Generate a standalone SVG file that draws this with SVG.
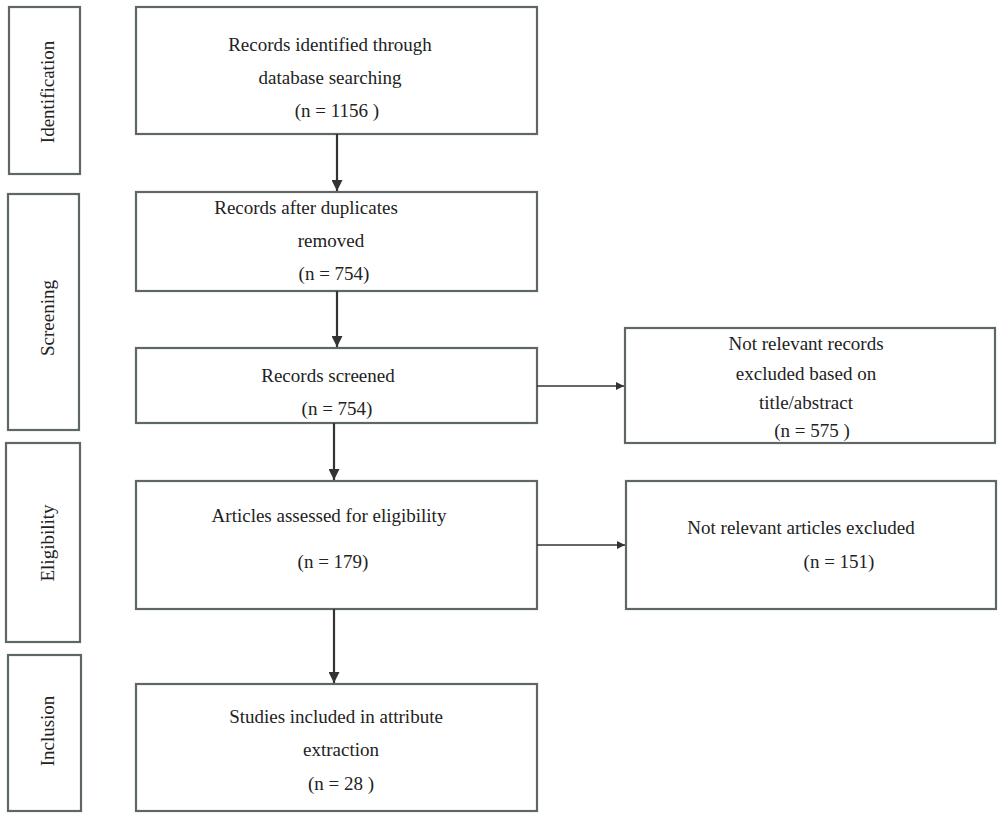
<svg xmlns="http://www.w3.org/2000/svg" width="1000" height="816" viewBox="0 0 1000 816">
<style>
.box{fill:#fff;stroke:#5f6668;stroke-width:2.2}
.t{font-family:"Liberation Serif","DejaVu Serif",serif;font-size:19px;fill:#222;text-anchor:middle}
.c{stroke:#333;stroke-width:2.2;fill:none}
</style>
<defs>
<marker id="ah" viewBox="0 0 10 10" refX="10" refY="5" markerWidth="5" markerHeight="5" orient="auto" markerUnits="strokeWidth">
<path d="M0,0 L10,5 L0,10 z" fill="#333"/>
</marker>
</defs>
<rect width="1000" height="816" fill="#fff"/>
<g id="stage-identification"><rect class="box" x="9" y="7" width="71" height="167"/><text class="t" transform="translate(54,92) rotate(-90)">Identification</text></g>
<g id="stage-screening"><rect class="box" x="8" y="194" width="71" height="236"/><text class="t" transform="translate(54,318) rotate(-90)">Screening</text></g>
<g id="stage-eligibility"><rect class="box" x="6" y="443" width="74" height="199"/><text class="t" transform="translate(54,543) rotate(-90)">Eligibility</text></g>
<g id="stage-inclusion"><rect class="box" x="8" y="655" width="73" height="156"/><text class="t" transform="translate(54,731) rotate(-90)">Inclusion</text></g>

<g id="n1"><rect class="box" x="136" y="7" width="401" height="127"/>
<text class="t" x="330" y="51">Records identified through</text>
<text class="t" x="330" y="84">database searching</text>
<text class="t" x="337" y="117">(n = 1156 )</text></g>
<g id="n2"><rect class="box" x="136" y="192" width="401" height="99"/>
<text class="t" x="306" y="214">Records after duplicates</text>
<text class="t" x="331" y="247">removed</text>
<text class="t" x="334" y="280">(n = 754)</text></g>
<g id="n3"><rect class="box" x="136" y="348" width="401" height="75"/>
<text class="t" x="328" y="382">Records screened</text>
<text class="t" x="337" y="415">(n = 754)</text></g>
<g id="n4"><rect class="box" x="136" y="481" width="401" height="128"/>
<text class="t" x="329" y="522">Articles assessed for eligibility</text>
<text class="t" x="333" y="568">(n = 179)</text></g>
<g id="n5"><rect class="box" x="136" y="684" width="401" height="127"/>
<text class="t" x="336" y="723">Studies included in attribute</text>
<text class="t" x="341" y="756">extraction</text>
<text class="t" x="341" y="790">(n = 28 )</text></g>
<g id="x1"><rect class="box" x="625" y="328" width="370" height="115"/>
<text class="t" x="806" y="350">Not relevant records</text>
<text class="t" x="806" y="380">excluded based on</text>
<text class="t" x="806" y="409">title/abstract</text>
<text class="t" x="812" y="437">(n = 575 )</text></g>
<g id="x2"><rect class="box" x="626" y="481" width="370" height="128"/>
<text class="t" x="801" y="534">Not relevant articles excluded</text>
<text class="t" x="839" y="568">(n = 151)</text></g>

<g id="connectors">
<line class="c" x1="337" y1="134" x2="337" y2="191" marker-end="url(#ah)"/>
<line class="c" x1="337" y1="291" x2="337" y2="347" marker-end="url(#ah)"/>
<line class="c" x1="334" y1="423" x2="334" y2="480" marker-end="url(#ah)"/>
<line class="c" x1="334" y1="609" x2="334" y2="683" marker-end="url(#ah)"/>
<line class="c" x1="537" y1="386" x2="624" y2="386" marker-end="url(#ah)" style="stroke-width:1.6"/>
<line class="c" x1="537" y1="545" x2="625" y2="545" marker-end="url(#ah)" style="stroke-width:1.6"/>
</g>
</svg>
